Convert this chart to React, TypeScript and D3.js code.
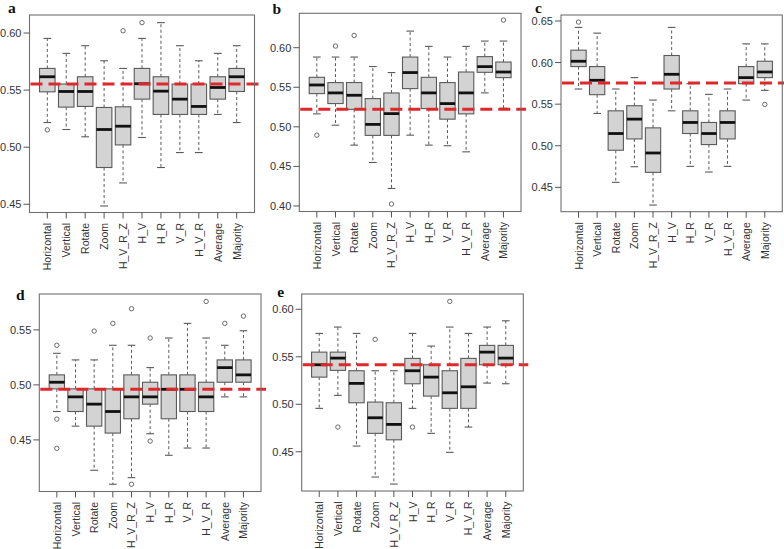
import React from "react";
import * as d3 from "d3";

const categories = ["Horizontal", "Vertical", "Rotate", "Zoom", "H_V_R_Z", "H_V", "H_R", "V_R", "H_V_R", "Average", "Majority"];

// [lower whisker, q1, median, q3, upper whisker]
const statsA = [
  [0.5216, 0.5485, 0.5617, 0.569, 0.5953],
  [0.5155, 0.5351, 0.5488, 0.5553, 0.5822],
  [0.5091, 0.5357, 0.5488, 0.5617, 0.5889],
  [0.4485, 0.4822, 0.5155, 0.5348, 0.5757],
  [0.4687, 0.502, 0.5184, 0.5354, 0.569],
  [0.5085, 0.5421, 0.5556, 0.569, 0.5953],
  [0.4822, 0.5287, 0.5491, 0.5617, 0.6091],
  [0.4953, 0.5287, 0.5421, 0.5553, 0.5889],
  [0.4953, 0.5287, 0.5357, 0.5553, 0.5757],
  [0.5287, 0.5421, 0.5523, 0.5617, 0.5822],
  [0.5216, 0.5488, 0.5617, 0.569, 0.5889],
];
const outliersA = [[0, 0.5152], [4, 0.602], [5, 0.6091]];
const refA = 0.5553;
const ticksA = [0.45, 0.5, 0.55, 0.6];

const statsB = [
  [0.5164, 0.542, 0.5529, 0.5626, 0.5882],
  [0.5021, 0.5294, 0.5429, 0.5559, 0.5882],
  [0.4769, 0.5221, 0.5399, 0.556, 0.5882],
  [0.455, 0.4892, 0.5031, 0.5357, 0.5762],
  [0.4221, 0.4892, 0.5167, 0.5428, 0.5686],
  [0.4895, 0.5483, 0.5686, 0.5882, 0.621],
  [0.4769, 0.5231, 0.5429, 0.5626, 0.6017],
  [0.4761, 0.5097, 0.5294, 0.5559, 0.5882],
  [0.4684, 0.5164, 0.5429, 0.5693, 0.6017],
  [0.5429, 0.5689, 0.5761, 0.5887, 0.6084],
  [0.5235, 0.5622, 0.5693, 0.5819, 0.6084],
];
const outliersB = [[0, 0.4895], [1, 0.6021], [2, 0.6155], [4, 0.4025], [10, 0.6349]];
const refB = 0.5221;
const ticksB = [0.4, 0.45, 0.5, 0.55, 0.6];

const statsC = [
  [0.5682, 0.5952, 0.6016, 0.6149, 0.6423],
  [0.5388, 0.5614, 0.5787, 0.5952, 0.6354],
  [0.456, 0.4946, 0.5147, 0.542, 0.5682],
  [0.4748, 0.5082, 0.532, 0.5481, 0.5819],
  [0.4287, 0.468, 0.4913, 0.5215, 0.5549],
  [0.542, 0.5682, 0.5859, 0.6085, 0.6423],
  [0.4752, 0.5147, 0.528, 0.542, 0.5746],
  [0.4684, 0.5014, 0.5147, 0.528, 0.5618],
  [0.4752, 0.5082, 0.528, 0.542, 0.5682],
  [0.5549, 0.5746, 0.5819, 0.5952, 0.6225],
  [0.5666, 0.5819, 0.5887, 0.6016, 0.6225],
];
const outliersC = [[0, 0.6487], [10, 0.5497]];
const refC = 0.5755;
const ticksC = [0.45, 0.5, 0.55, 0.6, 0.65];

const statsD = [
  [0.4758, 0.4964, 0.5024, 0.5091, 0.5287],
  [0.4625, 0.4758, 0.4891, 0.4964, 0.5227],
  [0.4224, 0.4625, 0.4825, 0.4964, 0.5227],
  [0.4097, 0.4562, 0.4758, 0.4964, 0.536],
  [0.4157, 0.4692, 0.4891, 0.5091, 0.536],
  [0.4556, 0.4825, 0.4891, 0.5024, 0.5157],
  [0.436, 0.4692, 0.496, 0.5091, 0.5426],
  [0.4426, 0.4758, 0.496, 0.5091, 0.5559],
  [0.4426, 0.4758, 0.4891, 0.5024, 0.5426],
  [0.4891, 0.5024, 0.5157, 0.5227, 0.536],
  [0.4891, 0.5024, 0.5091, 0.5227, 0.5492],
];
const outliersD = [
  [0, 0.536], [0, 0.4689], [0, 0.4423], [2, 0.5489], [3, 0.5559], [4, 0.5692], [4, 0.4097],
  [5, 0.5426], [5, 0.4489], [8, 0.5758], [9, 0.5559], [10, 0.5625],
];
const refD = 0.496;
const ticksD = [0.45, 0.5, 0.55];

const statsE = [
  [0.4957, 0.5286, 0.5416, 0.5549, 0.5746],
  [0.5094, 0.5357, 0.5486, 0.5549, 0.5813],
  [0.456, 0.5016, 0.522, 0.5353, 0.5746],
  [0.4234, 0.4694, 0.4858, 0.5023, 0.5353],
  [0.416, 0.4626, 0.4788, 0.5016, 0.5353],
  [0.4957, 0.5216, 0.5353, 0.5483, 0.5746],
  [0.4694, 0.5086, 0.5286, 0.5416, 0.5613],
  [0.4494, 0.4957, 0.5121, 0.5353, 0.5813],
  [0.476, 0.4957, 0.5184, 0.5483, 0.5746],
  [0.5223, 0.5416, 0.5549, 0.562, 0.5813],
  [0.5216, 0.5416, 0.5486, 0.562, 0.5879],
];
const outliersE = [[1, 0.476], [3, 0.5683], [5, 0.476], [7, 0.6083]];
const refE = 0.5416;
const ticksE = [0.45, 0.5, 0.55, 0.6];

const panelLetters = ["a", "b", "c", "d", "e"];

// layout (pixel boxes and y domains)
const layout = [
  { left: 29.5, right: 254.5, top: 15, bottom: 212.5, yDom: [0.4428, 0.6158], lx: 8, ly: 12.5 },
  { left: 299.3, right: 521, top: 13.3, bottom: 211.5, yDom: [0.393, 0.6435], lx: 272.5, ly: 13.5 },
  { left: 561, right: 782.3, top: 15, bottom: 211.7, yDom: [0.4207, 0.6572], lx: 535, ly: 13 },
  { left: 39.3, right: 261, top: 294, bottom: 491.5, yDom: [0.4031, 0.5826], lx: 16, ly: 300 },
  { left: 301.7, right: 523.3, top: 294, bottom: 491, yDom: [0.4087, 0.6161], lx: 277.3, ly: 297 },
];

const panelData = [
  { stats: statsA, outliers: outliersA, ref: refA, ticks: ticksA },
  { stats: statsB, outliers: outliersB, ref: refB, ticks: ticksB },
  { stats: statsC, outliers: outliersC, ref: refC, ticks: ticksC },
  { stats: statsD, outliers: outliersD, ref: refD, ticks: ticksD },
  { stats: statsE, outliers: outliersE, ref: refE, ticks: ticksE },
];

const FONT = "'Liberation Sans', Arial, Helvetica, sans-serif";
const BOX_STROKE = "#5a5a5a";

function Panel({ idx }: { idx: number }) {
  const L = layout[idx];
  const D = panelData[idx];
  const n = categories.length;
  const x = d3.scaleLinear().domain([0.5 - 0.04 * n, n + 0.5 + 0.04 * n]).range([L.left, L.right]);
  const y = d3.scaleLinear().domain(L.yDom).range([L.bottom, L.top]);
  const bw = (x(1) - x(0)) * 0.82;
  const cap = bw * 0.5;
  return (
    <g>
      <text x={L.lx} y={L.ly} fontFamily="'Liberation Serif', 'Times New Roman', serif" fontWeight="bold" fontSize={15.5} fill="#111">
        {panelLetters[idx]}
      </text>
      {D.stats.map((s, i) => {
        const cx = x(i + 1);
        return (
          <g key={i}>
            <line x1={cx} x2={cx} y1={y(s[3])} y2={y(s[4])} stroke={BOX_STROKE} strokeWidth={1} strokeDasharray="3,2.5" />
            <line x1={cx} x2={cx} y1={y(s[1])} y2={y(s[0])} stroke={BOX_STROKE} strokeWidth={1} strokeDasharray="3,2.5" />
            <line x1={cx - cap / 2} x2={cx + cap / 2} y1={y(s[4])} y2={y(s[4])} stroke={BOX_STROKE} strokeWidth={1.1} />
            <line x1={cx - cap / 2} x2={cx + cap / 2} y1={y(s[0])} y2={y(s[0])} stroke={BOX_STROKE} strokeWidth={1.1} />
            <rect x={cx - bw / 2} y={y(s[3])} width={bw} height={y(s[1]) - y(s[3])} fill="#d3d3d3" stroke={BOX_STROKE} strokeWidth={1.1} />
            <line x1={cx - bw / 2} x2={cx + bw / 2} y1={y(s[2])} y2={y(s[2])} stroke="#111" strokeWidth={2.8} />
          </g>
        );
      })}
      {D.outliers.map((o, k) => (
        <circle key={k} cx={x(o[0] + 1)} cy={y(o[1])} r={2.2} fill="none" stroke={BOX_STROKE} strokeWidth={0.9} />
      ))}
      <line x1={L.left + 1} x2={L.right + 5} y1={y(D.ref)} y2={y(D.ref)} stroke="#e0282a" strokeWidth={3} strokeDasharray="12,6" />
      <rect x={L.left} y={L.top} width={L.right - L.left} height={L.bottom - L.top} fill="none" stroke="#707070" strokeWidth={1.1} />
      {D.ticks.map((t) => (
        <g key={t}>
          <line x1={L.left - 6} x2={L.left} y1={y(t)} y2={y(t)} stroke="#555" strokeWidth={1} />
          <text x={L.left - 8} y={y(t)} textAnchor="end" dominantBaseline="central" fontFamily={FONT} fontSize={11} fill="#333">
            {d3.format(".2f")(t)}
          </text>
        </g>
      ))}
      {categories.map((c, i) => {
        const cx = x(i + 1);
        return (
          <g key={c}>
            <line x1={cx} x2={cx} y1={L.bottom} y2={L.bottom + 6} stroke="#555" strokeWidth={1} />
            <text
              transform={`translate(${cx},${L.bottom + 10.5}) rotate(-90)`}
              textAnchor="end"
              dominantBaseline="central"
              fontFamily={FONT}
              fontSize={10.5}
              fill="#333"
            >
              {c}
            </text>
          </g>
        );
      })}
    </g>
  );
}

export default function App() {
  return (
    <svg width={784} height={549} style={{ position: "absolute", left: 0, top: 0, background: "#fff" }}>
      <rect width={784} height={549} fill="#fff" />
      {layout.map((_, i) => (
        <Panel key={i} idx={i} />
      ))}
    </svg>
  );
}
